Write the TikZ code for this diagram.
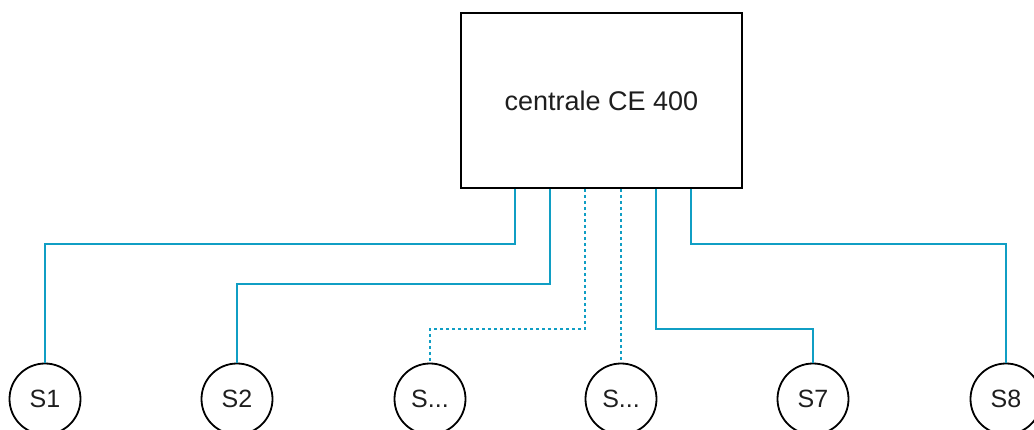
\documentclass[tikz,border=0pt]{standalone}
\usepackage{fontspec}
\setmainfont{Liberation Sans}
\definecolor{wire}{RGB}{16,158,196}
\definecolor{ink}{RGB}{30,30,30}
\begin{document}
\begin{tikzpicture}[x=1pt,y=-1pt,
            centrale/.style={draw, line width=2pt, minimum width=281pt, minimum height=175pt, text=ink, font=\fontsize{27}{32}\selectfont},
            sensor/.style={draw, circle, line width=1.8pt, minimum size=71pt, inner sep=0pt, text=ink, font=\fontsize{25}{30}\selectfont},
            link/.style={wire, line width=2pt},
            spare/.style={link, dash pattern=on 3pt off 3pt}]

            \useasboundingbox (0,0) rectangle (1034,430);

            \node[centrale] (ctrl) at (601.5,100.5) {centrale CE 400};

            \node[sensor] (s1) at (45,399) {S1};
            \node[sensor] (s2) at (237,399) {S2};
            \node[sensor] (s3) at (430,399) {S...};
            \node[sensor] (s4) at (621,399) {S...};
            \node[sensor] (s7) at (813,399) {S7};
            \node[sensor] (s8) at (1006,399) {S8};

            \draw[link] ([xshift=55pt]ctrl.south west) -- ++(0,55) -| (s1.north);
            \draw[link] ([xshift=90pt]ctrl.south west) -- ++(0,95) -| (s2.north);
            \draw[spare] ([xshift=125pt]ctrl.south west) -- ++(0,140) -| (s3.north);
            \draw[spare] (s4.north |- ctrl.south) -- (s4.north);
            \draw[link] ([xshift=196pt]ctrl.south west) -- ++(0,140) -| (s7.north);
            \draw[link] ([xshift=231pt]ctrl.south west) -- ++(0,55) -| (s8.north);
\end{tikzpicture}
\end{document}
